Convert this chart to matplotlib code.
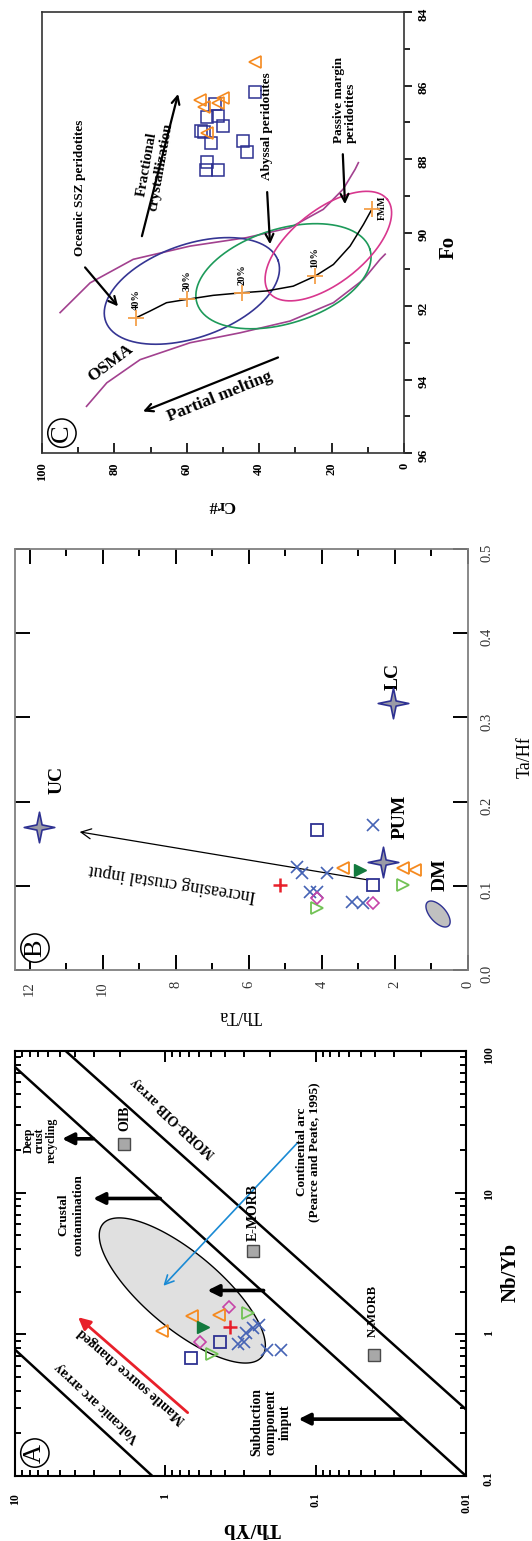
import numpy as np
import matplotlib
matplotlib.use("Agg")
import matplotlib.pyplot as plt
from matplotlib.path import Path
from matplotlib.ticker import LogLocator, FuncFormatter, MultipleLocator, NullFormatter

plt.rcParams['font.family'] = 'serif'
plt.rcParams['font.serif'] = ['Liberation Serif', 'DejaVu Serif']

# ---------------- panel A : Th/Yb vs Nb/Yb ----------------
a_tri_nb = [1.34, 1.36, 1.05]
a_tri_th = [0.66, 0.44, 1.05]
a_gfill_nb = [1.12]
a_gfill_th = [0.56]
a_dia_nb = [1.55, 0.89]
a_dia_th = [0.38, 0.59]
a_plus_nb = [1.12]
a_plus_th = [0.37]
a_gopen_nb = [1.41, 0.73]
a_gopen_th = [0.28, 0.49]
a_sq_nb = [0.88, 0.68]
a_sq_th = [0.43, 0.67]
a_x_nb = [1.02, 1.10, 1.17, 0.86, 0.88, 0.78, 0.78]
a_x_th = [0.29, 0.26, 0.24, 0.33, 0.30, 0.21, 0.17]
ref_names = ['OIB', 'E-MORB', 'N-MORB']
ref_nb = [22.0, 3.9, 0.72]
ref_th = [1.88, 0.26, 0.041]
# reference lines (Nb/Yb, Th/Yb end points)
arc_line = ([0.1, 0.78], [1.22, 10.0])
morb_upper = ([0.1, 77.0], [0.01, 10.0])
morb_lower = ([0.295, 100.0], [0.01, 4.6])
# shaded continental arc field: centre, end of long axis, end of short axis
arc_field = [(2.04, 0.771), (6.05, 2.59), (1.29, 1.136)]
# arrows (tail, head) as (Nb/Yb, Th/Yb)
a_black_arrows = [((24.0, 3.02), (24.0, 4.86)),
                  ((9.1, 1.08), (9.1, 3.02)),
                  ((2.04, 0.222), (2.04, 0.525)),
                  ((0.252, 0.0267), (0.252, 0.13))]
a_red_arrow = ((0.28, 0.71), (1.32, 3.8))
a_blue_arrow = ((22.5, 0.132), (2.2, 1.03))

# ---------------- panel B : Th/Ta vs Ta/Hf ----------------
b_sq_tahf = [0.166, 0.101]
b_sq_thta = [4.14, 2.60]
b_x_tahf = [0.172, 0.122, 0.115, 0.115, 0.093, 0.093, 0.081, 0.080]
b_x_thta = [2.60, 4.68, 4.55, 3.86, 4.33, 4.14, 3.18, 2.88]
b_plus_tahf = [0.101]
b_plus_thta = [5.15]
b_dia_tahf = [0.086, 0.080]
b_dia_thta = [4.14, 2.60]
b_gopen_tahf = [0.074, 0.101]
b_gopen_thta = [4.14, 1.78]
b_tri_tahf = [0.121, 0.121, 0.119]
b_tri_thta = [3.42, 1.78, 1.45]
b_gfill_tahf = [0.119]
b_gfill_thta = [2.96]
res_names = ['UC', 'LC', 'PUM']
res_tahf = [0.170, 0.317, 0.128]
res_thta = [11.75, 2.05, 2.33]
dm_field = [(0.0665, 0.82), (0.0525, 0.53), (0.060, 0.98)]
b_arrow = ((0.107, 2.74), (0.164, 10.63))

# ---------------- panel C : Cr# vs Fo ----------------
c_sq_fo = [86.51, 86.86, 86.83, 87.11, 87.24, 87.57, 87.51, 87.81, 88.09, 88.31, 88.31, 86.18, 87.27]
c_sq_cr = [52.2, 54.4, 51.4, 50.0, 56.1, 53.3, 44.5, 43.4, 54.4, 54.7, 51.4, 41.2, 55.2]
c_tri_fo = [85.36, 86.40, 86.59, 86.48, 86.34, 87.30]
c_tri_cr = [41.2, 56.4, 55.2, 51.4, 50.0, 54.4]
melt_fo = [92.32, 92.14, 91.91, 91.82, 91.71, 91.64, 91.59, 91.46, 91.19, 90.87, 90.37, 89.78, 89.37]
melt_cr = [74.0, 70.2, 65.6, 60.0, 52.7, 44.8, 37.9, 30.6, 24.6, 19.5, 14.9, 11.2, 8.9]
melt_labels = ['FMM', '10%', '20%', '30%', '40%']
melt_pt_fo = [89.37, 91.19, 91.64, 91.82, 92.32]
melt_pt_cr = [8.9, 24.6, 44.8, 60.0, 74.0]
osma_up_fo = [92.18, 91.37, 90.73, 90.37, 90.14, 89.87, 89.37, 88.82, 88.28, 88.10]
osma_up_cr = [95.0, 86.7, 74.8, 59.1, 43.5, 31.5, 22.3, 16.8, 13.5, 12.6]
osma_lo_fo = [94.73, 94.09, 93.46, 93.00, 92.73, 92.41, 91.91, 91.28, 90.73, 90.59]
osma_lo_cr = [87.7, 82.1, 72.9, 59.1, 45.3, 31.5, 19.5, 11.2, 6.6, 5.2]
# fields as (Fo, Cr#): centre, end of long axis, end of short axis
ssz_field = [(91.59, 58.6), (90.76, 34.8), (90.40, 63.0)]
abyssal_field = [(91.19, 33.3), (90.46, 9.4), (89.96, 37.1)]
passive_field = [(90.37, 20.9), (89.10, 4.6), (89.59, 27.2)]
c_arrows = [((90.95, 88.1), (92.01, 79.0)),
            ((90.10, 72.4), (86.23, 62.4)),
            ((88.90, 37.8), (90.32, 37.0)),
            ((87.87, 16.9), (89.23, 16.3)),
            ((93.40, 34.8), (94.87, 72.1))]

ORANGE = '#f58a1f'
NAVY = '#2e3192'
BLUE = '#4563b5'
MAGENTA = '#c644a8'
LGREEN = '#72c255'
DGREEN = '#137a3e'
RED = '#e8202a'


def conj_ellipse(c, p, q, log=False, n=200):
    c, p, q = (np.asarray(v, float) for v in (c, p, q))
    if log:
        c, p, q = np.log10(c), np.log10(p), np.log10(q)
    t = np.linspace(0, 2 * np.pi, n)
    pts = c[:, None] + (p - c)[:, None] * np.cos(t) + (q - c)[:, None] * np.sin(t)
    return 10 ** pts if log else pts


star = Path([(0, 1), (0.17, 0.17), (1, 0), (0.17, -0.17), (0, -1), (-0.17, -0.17),
             (-1, 0), (-0.17, 0.17), (0, 1)], closed=True)

W, H = 532, 1541
fig = plt.figure(figsize=(W / 100, H / 100), dpi=100)


def box(x0, y0, x1, y1):
    return [x0 / W, 1 - y1 / H, (x1 - x0) / W, (y1 - y0) / H]


def circ_label(ax, fx, fy, s):
    ax.text(fx, fy, s, transform=ax.transAxes, rotation=90, ha='center', va='center',
            fontsize=19, bbox=dict(boxstyle='circle,pad=0.12', fc='white', ec='black', lw=1.1),
            zorder=10)


# the whole figure is turned a quarter turn: original y runs to the left,
# original x runs upwards
# ================= panel A =================
ax = fig.add_axes(box(15, 1051, 466, 1476))
ax.set_xscale('log')
ax.set_yscale('log')
ax.set_xlim(10, 0.01)
ax.set_ylim(0.1, 100)

e = conj_ellipse(*arc_field, log=True)
ax.fill(e[1], e[0], fc='#e0e0e0', ec='black', lw=1, zorder=1)
for nb, th in (arc_line, morb_upper, morb_lower):
    ax.plot(th, nb, color='black', lw=1.8, zorder=2)
for tail, head in a_black_arrows:
    ax.annotate('', xy=(head[1], head[0]), xytext=(tail[1], tail[0]),
                arrowprops=dict(arrowstyle='-|>', color='black', lw=2.6, mutation_scale=17,
                                shrinkA=0, shrinkB=0), zorder=3)
tail, head = a_red_arrow
ax.annotate('', xy=(head[1], head[0]), xytext=(tail[1], tail[0]),
            arrowprops=dict(arrowstyle='-|>', color=RED, lw=2, mutation_scale=18,
                            shrinkA=0, shrinkB=0))
tail, head = a_blue_arrow
ax.annotate('', xy=(head[1], head[0]), xytext=(tail[1], tail[0]),
            arrowprops=dict(arrowstyle='->', color='#1a8ad4', lw=1.2, mutation_scale=16,
                            shrinkA=0, shrinkB=0))

ax.plot(ref_th, ref_nb, 's', ms=9, mfc='#a8a8a8', mec='#4a4a4a', mew=1, zorder=5)
ax.plot(a_x_th, a_x_nb, 'x', ms=9, mec=BLUE, mew=1.2, zorder=5)
ax.plot(a_sq_th, a_sq_nb, 's', ms=9, mfc='none', mec=NAVY, mew=1.3, zorder=5)
ax.plot(a_gopen_th, a_gopen_nb, '>', ms=9, mfc='none', mec=LGREEN, mew=1.3, zorder=5)
ax.plot(a_dia_th, a_dia_nb, 'D', ms=6.5, mfc='none', mec=MAGENTA, mew=1.2, zorder=5)
ax.plot(a_tri_th, a_tri_nb, '<', ms=9, mfc='none', mec=ORANGE, mew=1.3, zorder=5)
ax.plot(a_gfill_th, a_gfill_nb, '>', ms=9, mfc=DGREEN, mec=DGREEN, zorder=5)
ax.plot(a_plus_th, a_plus_nb, '+', ms=10, mec=RED, mew=1.8, zorder=5)

bold = dict(transform=ax.transAxes, fontweight='bold', ha='center', va='center')
ax.text(0.244, 0.842, 'OIB', rotation=90, fontsize=10, **bold)
ax.text(0.528, 0.621, 'E-MORB', rotation=90, fontsize=10, **bold)
ax.text(0.794, 0.388, 'N-MORB', rotation=90, fontsize=9, **bold)
ax.text(0.055, 0.79, 'Deep\ncrust\nrecycling', rotation=90, fontsize=8.5, linespacing=0.95, **bold)
ax.text(0.124, 0.614, 'Crustal\ncontamination', rotation=90, fontsize=9.5, linespacing=1.25, **bold)
ax.text(0.65, 0.762, 'Continental arc\n(Pearce and Peate, 1995)', rotation=90, fontsize=9.5,
        linespacing=1.05, **bold)
ax.text(0.568, 0.127, 'Subduction\ncomponent\nimput', rotation=90, fontsize=10, linespacing=1.15, **bold)
ax.text(0.352, 0.845, 'MORB-OIB array', rotation=137, fontsize=10, **bold)
ax.text(0.182, 0.174, 'Volcanic arc array', rotation=137, fontsize=10, **bold)
ax.text(0.259, 0.235, 'Mantle source changed', rotation=139, fontsize=10, **bold)
ax.text(0.525, -0.122, 'Th/Yb', rotation=180, fontsize=15, **bold)
ax.text(1.098, 0.478, 'Nb/Yb', rotation=90, fontsize=15, **bold)
circ_label(ax, 0.044, 0.054, 'A')

fmt = FuncFormatter(lambda v, p: f'{v:g}')
for axis in (ax.xaxis, ax.yaxis):
    axis.set_major_locator(LogLocator(base=10))
    axis.set_minor_locator(LogLocator(base=10, subs=np.arange(2, 10)))
    axis.set_major_formatter(fmt)
    axis.set_minor_formatter(NullFormatter())
ax.tick_params(which='both', direction='in', top=True, bottom=True, left=True, right=True,
               labelleft=False, labelright=True, labelrotation=90, width=1.4, color='black')
ax.tick_params(which='major', length=8)
ax.tick_params(which='minor', length=4)
ax.tick_params(axis='x', pad=12, labelsize=8.5)
ax.tick_params(axis='y', pad=12, labelsize=8.5)
for lab in ax.get_xticklabels() + ax.get_yticklabels():
    lab.set_fontweight('bold')
for s in ax.spines.values():
    s.set_linewidth(1.5)

# ================= panel B =================
ax = fig.add_axes(box(15, 549, 468, 970))
ax.set_xlim(12.4, 0)
ax.set_ylim(0, 0.5)
e = conj_ellipse(*dm_field)
ax.fill(e[1], e[0], fc='#c0c0c0', ec=NAVY, lw=1, zorder=2)
tail, head = b_arrow
ax.annotate('', xy=(head[1], head[0]), xytext=(tail[1], tail[0]),
            arrowprops=dict(arrowstyle='->', color='black', lw=0.9, mutation_scale=18,
                            shrinkA=0, shrinkB=0))
ax.plot(b_x_thta, b_x_tahf, 'x', ms=9, mec=BLUE, mew=1.2, zorder=5)
ax.plot(b_sq_thta, b_sq_tahf, 's', ms=9, mfc='none', mec=NAVY, mew=1.3, zorder=5)
ax.plot(b_gopen_thta, b_gopen_tahf, '>', ms=9, mfc='none', mec=LGREEN, mew=1.3, zorder=5)
ax.plot(b_dia_thta, b_dia_tahf, 'D', ms=6.5, mfc='none', mec=MAGENTA, mew=1.2, zorder=5)
ax.plot(b_tri_thta, b_tri_tahf, '<', ms=9, mfc='none', mec=ORANGE, mew=1.3, zorder=5)
ax.plot(b_gfill_thta, b_gfill_tahf, '>', ms=9, mfc=DGREEN, mec=DGREEN, zorder=5)
ax.plot(b_plus_thta, b_plus_tahf, '+', ms=10, mec=RED, mew=1.8, zorder=5)
ax.plot(res_thta, res_tahf, marker=star, ls='none', ms=22, mfc='#9a9aa6', mec=NAVY, mew=1.2, zorder=6)

bold = dict(transform=ax.transAxes, fontweight='bold', ha='center', va='center')
ax.text(0.093, 0.451, 'UC', rotation=90, fontsize=14, **bold)
ax.text(0.834, 0.698, 'LC', rotation=90, fontsize=14, **bold)
ax.text(0.850, 0.363, 'PUM', rotation=90, fontsize=14, **bold)
ax.text(0.938, 0.226, 'DM', rotation=90, fontsize=14, **bold)
ax.text(0.347, 0.209, 'Increasing crustal input', rotation=171, fontsize=13,
        transform=ax.transAxes, ha='center', va='center')
ax.text(0.497, -0.107, 'Th/Ta', rotation=180, fontsize=13, transform=ax.transAxes,
        ha='center', va='center')
ax.text(1.126, 0.506, 'Ta/Hf', rotation=90, fontsize=13, transform=ax.transAxes,
        ha='center', va='center')
circ_label(ax, 0.044, 0.052, 'B')

ax.xaxis.set_major_locator(MultipleLocator(2))
ax.xaxis.set_minor_locator(MultipleLocator(1))
ax.yaxis.set_major_locator(MultipleLocator(0.1))
ax.yaxis.set_major_formatter(FuncFormatter(lambda v, p: f'{v:.1f}'))
ax.tick_params(which='both', direction='in', top=True, bottom=True, left=True, right=True,
               labelleft=False, labelright=True, labelrotation=90, width=1.4, color='black',
               labelsize=10.5, labelcolor='#333333')
ax.tick_params(which='major', length=11)
ax.tick_params(which='minor', length=5)
ax.tick_params(axis='x', pad=8)
ax.tick_params(axis='y', pad=9)
for s in ax.spines.values():
    s.set_color('#808080')
    s.set_linewidth(1.3)

# ================= panel C =================
ax = fig.add_axes(box(42, 12, 404, 453))
ax.set_xlim(100, 0)
ax.set_ylim(96, 84)
ax.plot(osma_up_cr, osma_up_fo, color='#a2418f', lw=1.2)
ax.plot(osma_lo_cr, osma_lo_fo, color='#a2418f', lw=1.2)
for fld, col in ((ssz_field, '#353593'), (abyssal_field, '#1d9a5a'), (passive_field, '#d8378e')):
    e = conj_ellipse(*fld)
    ax.plot(e[1], e[0], color=col, lw=1.2)
ax.plot(melt_cr, melt_fo, color='black', lw=1.1)
ax.plot(melt_pt_cr, melt_pt_fo, '+', ms=11, mec='#f5a04a', mew=1.3, zorder=5)
for cr, fo, lab in zip(melt_pt_cr, melt_pt_fo, melt_labels):
    if lab == 'FMM':
        ax.text(cr - 3, fo - 0.05, lab, rotation=90, fontsize=7, fontweight='bold',
                ha='center', va='center')
    else:
        ax.text(cr, fo - 0.5, lab, rotation=90, fontsize=7.5, fontweight='bold',
                ha='center', va='center')
ax.plot(c_sq_cr, c_sq_fo, 's', ms=8.5, mfc='none', mec=NAVY, mew=1.1, zorder=5)
ax.plot(c_tri_cr, c_tri_fo, '<', ms=9, mfc='none', mec=ORANGE, mew=1.2, zorder=5)
for tail, head in c_arrows:
    ax.annotate('', xy=(head[1], head[0]), xytext=(tail[1], tail[0]),
                arrowprops=dict(arrowstyle='->', color='black', lw=1.6, mutation_scale=14,
                                shrinkA=0, shrinkB=0))

bold = dict(transform=ax.transAxes, fontweight='bold', ha='center', va='center')
ax.text(0.105, 0.601, 'Oceanic SSZ peridotites', rotation=90, fontsize=9.5, **bold)
ax.text(0.309, 0.651, 'Fractional\ncrystallization', rotation=80, fontsize=10.5, linespacing=1.1, **bold)
ax.text(0.622, 0.741, 'Abyssal peridotites', rotation=90, fontsize=9.5, **bold)
ax.text(0.837, 0.80, 'Passive margin\nperidotites', rotation=90, fontsize=9.5,
        multialignment='left', linespacing=1.05, **bold)
ax.text(0.188, 0.204, 'OSMA', rotation=37, fontsize=12.5, **bold)
ax.text(0.492, 0.127, 'Partial melting', rotation=22, fontsize=12.5, **bold)
ax.text(0.497, -0.118, 'Cr#', rotation=180, fontsize=12, **bold)
ax.text(1.122, 0.467, 'Fo', rotation=90, fontsize=15, **bold)
circ_label(ax, 0.055, 0.045, 'C')

ax.xaxis.set_major_locator(MultipleLocator(20))
ax.xaxis.set_minor_locator(MultipleLocator(10))
ax.yaxis.set_major_locator(MultipleLocator(2))
ax.yaxis.set_minor_locator(MultipleLocator(1))
ax.tick_params(axis='x', which='both', direction='in', bottom=True, top=False,
               labelrotation=90, labelsize=9, pad=7, width=1.2)
ax.tick_params(axis='x', which='major', length=7)
ax.tick_params(axis='x', which='minor', length=4)
ax.tick_params(axis='y', which='both', direction='out', left=False, right=True,
               labelleft=False, labelright=True, labelrotation=90, labelsize=9.5, pad=4, width=1.2)
ax.tick_params(axis='y', which='major', length=6)
ax.tick_params(axis='y', which='minor', length=4)
for lab in ax.get_xticklabels() + ax.get_yticklabels():
    lab.set_fontweight('bold')
for s in ax.spines.values():
    s.set_color('#333333')
    s.set_linewidth(1.2)

fig.savefig('out.png', dpi=100)
